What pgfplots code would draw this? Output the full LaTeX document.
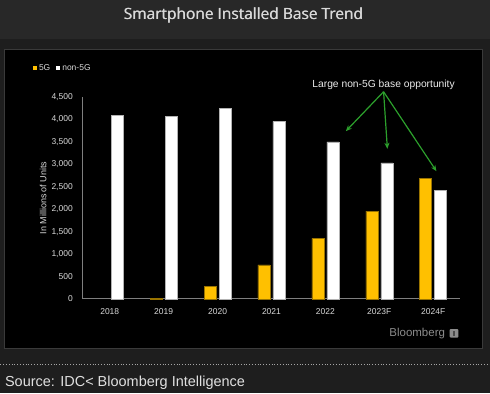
\documentclass[border=0pt]{standalone}
\usepackage{fontspec}
\usepackage{pgfplots}
\pgfplotsset{compat=1.18}
\usetikzlibrary{arrows.meta}
\setmainfont{Liberation Sans}
\newfontfamily\titlefont{Open Sans}
\definecolor{titlebg}{HTML}{282828}
\definecolor{outerbg}{HTML}{1E1E1E}
\definecolor{panelborder}{HTML}{3A3A3A}
\definecolor{fiveg}{HTML}{FFC000}
\definecolor{fivegedge}{HTML}{9A7400}
\definecolor{axisgray}{HTML}{7F7F7F}
\definecolor{ticktext}{HTML}{D9D9D9}
\definecolor{arrowgreen}{HTML}{2CA02C}
\definecolor{bbgray}{HTML}{8C8C8C}
\begin{document}
\begin{tikzpicture}[x=1pt,y=1pt]
% backgrounds
\fill[outerbg] (0,0) rectangle (490,394);
\fill[titlebg] (0,355) rectangle (490,394);
\filldraw[fill=black,draw=panelborder,line width=0.8pt] (4.4,44.7) rectangle (482.6,345);
\draw[gray!70,dotted,line width=0.8pt] (0,28.7) -- (490,28.7);
\node[text=ticktext,font=\titlefont\fontsize{15.5}{17}\selectfont] at (243.3,378.3) {Smartphone Installed Base Trend};
\node[text=ticktext,font=\titlefont\fontsize{15.5}{17}\selectfont] at (243.7,378.3) {Smartphone Installed Base Trend};
\node[anchor=west,text=white!88!black,font=\fontsize{14.5}{16}\selectfont,inner sep=0pt] at (4.5,11) {Source: IDC< Bloomberg Intelligence};
% Bloomberg logo
\node[anchor=east,text=bbgray,font=\fontsize{11.5}{13}\selectfont,inner sep=0pt] at (445.5,60) {Bloomberg};
\fill[bbgray,rounded corners=1pt] (450,55.8) rectangle (458.7,64.4);
\fill[black!70] (453.3,57.3) rectangle (455.4,62.6);
\begin{axis}[
  at={(82.5pt,94.7pt)}, anchor=south west,
  scale only axis, width=378pt, height=202pt,
  xmin=-0.5, xmax=6.5, ymin=0, ymax=4500,
  axis x line*=bottom, axis y line*=left,
  axis line style={axisgray,line width=0.8pt},
  major tick length=0pt,
  xtick={0,1,2,3,4,5,6},
  xticklabels={2018,2019,2020,2021,2022,2023F,2024F},
  ytick={0,500,...,4500},
  yticklabel style={/pgf/number format/1000 sep={,},/pgf/number format/assume math mode=true, xshift=-6.5pt},
  xticklabel style={yshift=-6pt},
  tick label style={text=ticktext,font=\fontsize{8.5}{10}\selectfont},
  ylabel={In Millions of Units},
  ylabel style={at={(axis description cs:-0.105,0.5)},anchor=center,text=ticktext,font=\fontsize{9}{10}\selectfont},
  ybar, bar width=12pt,
  clip=false,
  legend columns=2,
  legend style={at={(axis description cs:-0.135,1.1436)},anchor=west,draw=none,fill=none,
    text=ticktext,font=\fontsize{8.5}{10}\selectfont,inner sep=1pt,
    /tikz/every even column/.append style={column sep=4pt}},
  legend image code/.code={\fill[#1,draw=none] (0pt,-2pt) rectangle (4pt,2pt);},
]
\addplot[fill=fiveg,draw=fivegedge,line width=0.5pt,bar shift=-7.5pt] coordinates {
  (1,12) (2,280) (3,760) (4,1350) (5,1955) (6,2680)};
\addplot[fill=white,draw=gray!60,line width=0.5pt,bar shift=7.5pt] coordinates {
  (0,4100) (1,4075) (2,4250) (3,3960) (4,3500) (5,3035) (6,2425)};
\legend{5G,non-5G}
\node[text=white!92!black,font=\fontsize{10.3}{12}\selectfont] at (axis cs:5.08,4768) {Large non-5G base opportunity};
\draw[arrowgreen,line width=1.2pt,-{Stealth[length=6pt,width=5pt]}] (axis cs:5.08,4621) -- (axis cs:4.38,3741);
\draw[arrowgreen,line width=1.2pt,-{Stealth[length=6pt,width=5pt]}] (axis cs:5.08,4621) -- (axis cs:5.15,3348);
\draw[arrowgreen,line width=1.2pt,-{Stealth[length=6pt,width=5pt]}] (axis cs:5.08,4621) -- (axis cs:6.06,2848);
\end{axis}
\end{tikzpicture}
\end{document}
